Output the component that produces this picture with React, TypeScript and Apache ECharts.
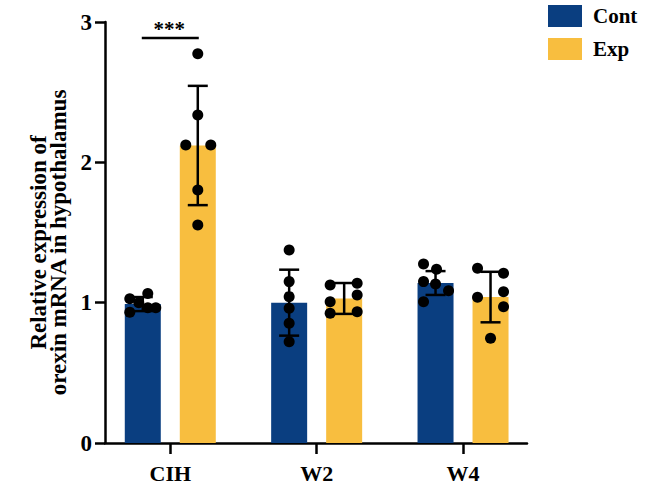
import React, { useEffect, useRef } from "react";
import * as echarts from "echarts";

const categories = ["CIH", "W2", "W4"];
const contMean = [0.99, 1.0, 1.14];
const contSD = [0.05, 0.235, 0.085];
const expMean = [2.12, 1.03, 1.04];
const expSD = [0.425, 0.11, 0.18];

const contPoints = [
  [1.066, 1.028, 1.0, 0.963, 0.963, 0.932],
  [1.375, 1.15, 1.043, 0.96, 0.853, 0.722],
  [1.276, 1.238, 1.15, 1.133, 1.085, 1.007],
];
const expPoints = [
  [2.773, 2.338, 2.124, 2.124, 1.803, 1.554],
  [1.126, 1.138, 1.007, 1.055, 0.924, 0.936],
  [1.245, 1.209, 1.038, 1.078, 0.971, 0.746],
];
// horizontal jitter of the dots (px)
const contJitter = [
  [5, -13, -4, 5, 13, -13],
  [0, 0, 0, 0, 0, 0],
  [-12, 1, -12, 0, 13, -12],
];
const expJitter = [
  [0, 0, -12, 13, 0, 0],
  [-14, 13, -14, 13, -14, 13],
  [-13, 13, -13, 13, 13, 0],
];
const sigLevel = 2.886;
const sigText = "***";

const BLUE = "#0A3E80";
const ORANGE = "#F8BE3F";
const FONT = '"Liberation Serif", "Times New Roman", serif';
const BAR_W = 36;
const SIDE = 27.5;

function barSeries(name: string, means: number[], sds: number[], color: string, side: number) {
  return {
    name,
    type: "custom",
    z: 2,
    clip: false,
    itemStyle: { color },
    encode: { x: 0, y: 1 },
    data: means.map((m, i) => [i, m, sds[i]]),
    renderItem: (params: any, api: any) => {
      const gi = api.value(0);
      const mean = api.value(1);
      const sd = api.value(2);
      const top = api.coord([gi, mean]);
      const base = api.coord([gi, 0]);
      const hi = api.coord([gi, mean + sd]);
      const lo = api.coord([gi, mean - sd]);
      const cx = top[0] + side;
      const lw = 2.5;
      return {
        type: "group",
        children: [
          {
            type: "rect",
            shape: { x: cx - BAR_W / 2, y: top[1], width: BAR_W, height: base[1] - top[1] },
            style: { fill: color },
          },
          {
            type: "line",
            z2: 5,
            shape: { x1: cx, y1: hi[1], x2: cx, y2: lo[1] },
            style: { stroke: "#000", lineWidth: lw },
          },
          {
            type: "line",
            z2: 5,
            shape: { x1: cx - 10, y1: hi[1], x2: cx + 10, y2: hi[1] },
            style: { stroke: "#000", lineWidth: lw },
          },
          {
            type: "line",
            z2: 5,
            shape: { x1: cx - 10, y1: lo[1], x2: cx + 10, y2: lo[1] },
            style: { stroke: "#000", lineWidth: lw },
          },
        ],
      };
    },
  };
}

function pointSeries(name: string, pts: number[][], jit: number[][], side: number) {
  const data: any[] = [];
  pts.forEach((arr, gi) =>
    arr.forEach((v, k) => {
      data.push({ value: [gi, v], symbolOffset: [side + jit[gi][k], 0] });
    })
  );
  return {
    name,
    type: "scatter",
    z: 4,
    symbol: "circle",
    symbolSize: 11,
    itemStyle: { color: "#000", opacity: 1 },
    data,
  };
}

export default function App() {
  const ref = useRef<HTMLDivElement>(null);
  useEffect(() => {
    if (!ref.current) return;
    const chart = echarts.init(ref.current, undefined, { renderer: "svg" });
    const option: any = {
      animation: false,
      backgroundColor: "#fff",
      color: [BLUE, ORANGE],
      grid: { left: 105, top: 22, width: 422, height: 421, containLabel: false },
      legend: {
        data: ["Cont", "Exp"],
        orient: "vertical",
        left: 543,
        top: 0,
        icon: "rect",
        itemWidth: 34,
        itemHeight: 22,
        itemGap: 11,
        selectedMode: false,
        textStyle: {
          fontFamily: FONT,
          fontWeight: "bold",
          fontSize: 21,
          color: "#000",
          padding: [0, 0, 0, 6],
        },
      },
      xAxis: {
        type: "value",
        min: -0.446,
        max: 2.437,
        splitLine: { show: false },
        axisLine: { show: true, onZero: false, lineStyle: { color: "#000", width: 2.5 } },
        axisTick: {
          show: true,
          customValues: [0, 1, 2],
          length: 11,
          lineStyle: { color: "#000", width: 2.5 },
        },
        axisLabel: {
          customValues: [0, 1, 2],
          formatter: (v: number) => categories[Math.round(v)] ?? "",
          fontFamily: FONT,
          fontWeight: "bold",
          fontSize: 22,
          color: "#000",
          margin: 19,
        },
      },
      yAxis: {
        type: "value",
        min: 0,
        max: 3,
        interval: 1,
        splitLine: { show: false },
        axisLine: { show: true, onZero: false, lineStyle: { color: "#000", width: 2.5 } },
        axisTick: { show: true, length: 10, lineStyle: { color: "#000", width: 2.5 } },
        axisLabel: {
          fontFamily: FONT,
          fontWeight: "bold",
          fontSize: 23,
          color: "#000",
          margin: 13,
        },
        name: "Relative expression of\norexin mRNA in hypothalamus",
        nameLocation: "middle",
        nameRotate: 90,
        nameGap: 37,
        nameTextStyle: {
          fontFamily: FONT,
          fontWeight: "bold",
          fontSize: 23,
          lineHeight: 20,
          color: "#000",
          padding: [0, 20, 0, 0],
        },
      },
      series: [
        barSeries("Cont", contMean, contSD, BLUE, -SIDE),
        barSeries("Exp", expMean, expSD, ORANGE, SIDE),
        pointSeries("Cont points", contPoints, contJitter, -SIDE),
        pointSeries("Exp points", expPoints, expJitter, SIDE),
        {
          name: "significance",
          type: "custom",
          z: 5,
          clip: false,
          encode: { x: 0, y: 1 },
          data: [[0, sigLevel]],
          renderItem: (params: any, api: any) => {
            const p = api.coord([api.value(0), api.value(1)]);
            return {
              type: "group",
              children: [
                {
                  type: "line",
                  shape: { x1: p[0] - SIDE - 1, y1: p[1], x2: p[0] + SIDE + 1, y2: p[1] },
                  style: { stroke: "#000", lineWidth: 2.5 },
                },
                {
                  type: "text",
                  x: p[0] - 1,
                  y: p[1] + 2,
                  style: {
                    text: sigText,
                    fontFamily: FONT,
                    fontWeight: "bold",
                    fontSize: 21,
                    fill: "#000",
                    align: "center",
                    verticalAlign: "bottom",
                  },
                },
              ],
            };
          },
        },
      ],
    };
    chart.setOption(option);
    return () => chart.dispose();
  }, []);
  return (
    <div
      ref={ref}
      style={{ position: "absolute", left: 0, top: 0, width: 645, height: 485, background: "#fff" }}
    />
  );
}
